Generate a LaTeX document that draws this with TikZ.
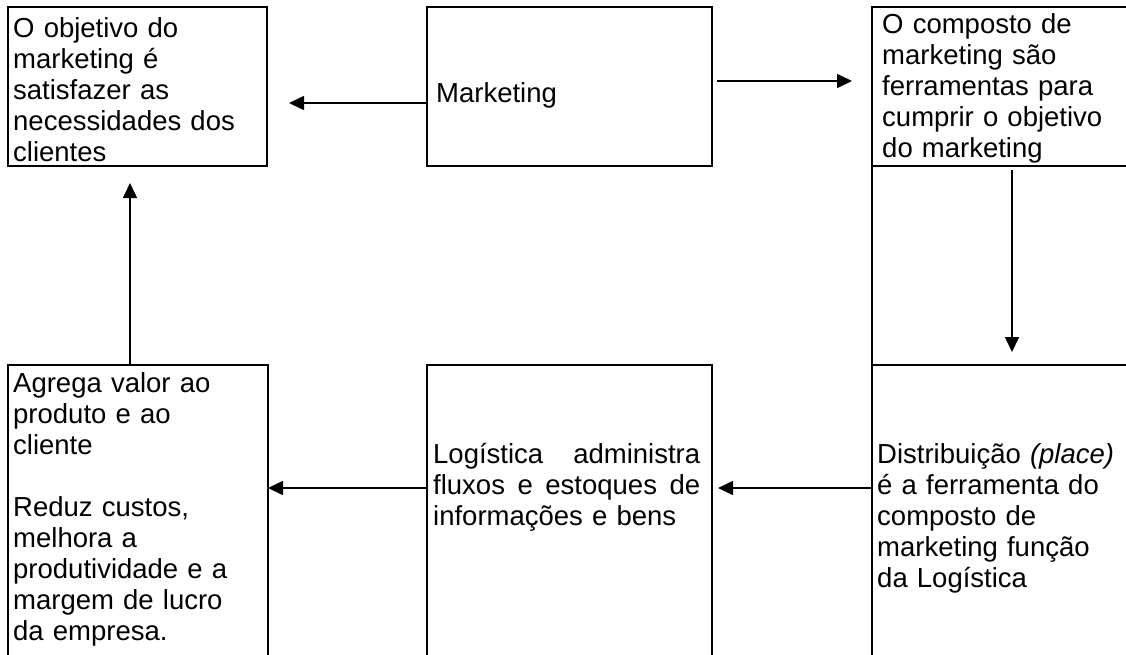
\documentclass[tikz,border=0pt]{standalone}
\usepackage{fontspec}
\setmainfont{Liberation Sans}
\usetikzlibrary{arrows.meta,positioning}

\tikzset{
  caixa/.style={draw, line width=2.6pt, anchor=north west, inner sep=0pt, outer sep=0pt},
  texto/.style={anchor=base west, align=left, inner sep=0pt, text width=#1,
    font=\fontsize{27.5}{31}\selectfont},
  texto/.default=245pt,
  seta/.style={line width=1.6pt, -{Triangle[length=15pt,width=14pt]}},
}

\begin{document}
\begin{tikzpicture}[x=1pt,y=-1pt]
\useasboundingbox (0,0) rectangle (1126,654);
\clip (0,0) rectangle (1126,654);

% caixas de cima
\node[caixa, minimum width=259pt, minimum height=159pt] (obj) at (8,7) {};
\node[caixa, minimum width=285pt, minimum height=159pt] (mkt) at (427,7) {};
\node[caixa, minimum width=280pt, minimum height=159pt] (comp) at (872,7) {};
\node[caixa, minimum width=280pt, minimum height=199pt] (meio) at (872,166) {};

% caixas de baixo
\node[caixa, minimum width=260pt, minimum height=300pt] (agrega) at (8,365) {};
\node[caixa, minimum width=285pt, minimum height=300pt] (log) at (427,365) {};
\node[caixa, minimum width=280pt, minimum height=300pt] (dist) at (872,365) {};

% textos
\node[texto] (tobj) at (13,37) {O objetivo do\\marketing é\\satisfazer as\\necessidades dos\\clientes};
\node[texto] (tmkt) at (436,102) {Marketing};
\node[texto] (tcomp) at (882,33) {O composto de\\marketing são\\ferramentas para\\cumprir o objetivo\\do marketing};
\node[texto] (tagrega) at (13,392) {Agrega valor ao\\produto e ao\\cliente\\[31pt]Reduz custos,\\melhora a\\produtividade e a\\margem de lucro\\da empresa.};
\node[texto=267pt] (tlog) at (433,463) {\makebox[267pt][s]{Logística\hfill administra}\\\makebox[267pt][s]{fluxos\hfill e\hfill estoques\hfill de}\\informações e bens};
\node[texto] (tdist) at (877,463) {Distribuição \textit{(place)}\\é a ferramenta do\\composto de\\marketing função\\da Logística};

% setas
\draw[seta] ([yshift=-16.5pt]mkt.west) -- ([xshift=22pt,yshift=-16.5pt]obj.east);
\draw[seta] ([xshift=5pt,yshift=5.5pt]mkt.east) -- ([xshift=-20pt,yshift=5.5pt]comp.west);
\draw[seta] ([xshift=140pt,yshift=-4pt]comp.south west) -- ([xshift=140pt,yshift=13pt]dist.north west);
\draw[seta] ([yshift=-123pt]dist.north west) -- ([xshift=6pt,yshift=-123pt]log.north east);
\draw[seta] ([yshift=-123pt]log.north west) -- ([yshift=-123pt]agrega.north east);
\draw[seta] ([xshift=122pt]agrega.north west) -- ([xshift=122pt,yshift=-17pt]obj.south west);
\end{tikzpicture}
\end{document}
